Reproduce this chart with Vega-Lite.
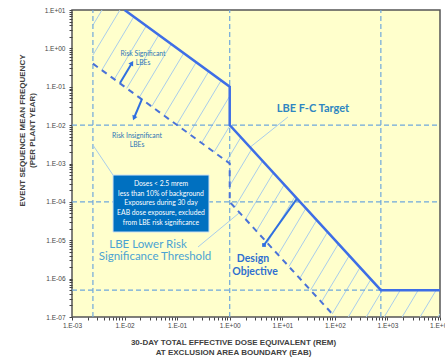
{
  "$schema": "https://vega.github.io/schema/vega-lite/v6.json",
  "width": 368,
  "height": 307,
  "autosize": {"type": "none"},
  "padding": {"left": 72, "top": 10, "right": 5, "bottom": 43},
  "background": "white",
  "config": {
    "view": {"fill": "#FFFFCC", "stroke": "#555555", "strokeWidth": 1.5},
    "font": "Liberation Sans"
  },
  "datasets": {
    "hatch": [
      {"x": 0.0025, "y": 4.03, "x2": 0.003724, "y2": 10},
      {"x": 0.0025, "y": 0.67, "x2": 0.00817, "y2": 10},
      {"x": 0.00369, "y": 0.271, "x2": 0.015, "y2": 6.664},
      {"x": 0.006372, "y": 0.157, "x2": 0.02591, "y2": 3.859},
      {"x": 0.011, "y": 0.0909, "x2": 0.04475, "y2": 2.235},
      {"x": 0.01901, "y": 0.0526, "x2": 0.0773, "y2": 1.294},
      {"x": 0.0328, "y": 0.03047, "x2": 0.1335, "y2": 0.749},
      {"x": 0.0567, "y": 0.01764, "x2": 0.2305, "y2": 0.4339},
      {"x": 0.0979, "y": 0.01022, "x2": 0.398, "y2": 0.2513},
      {"x": 0.169, "y": 0.005918, "x2": 0.6874, "y2": 0.1455},
      {"x": 0.2919, "y": 0.003425, "x2": 1, "y2": 0.057},
      {"x": 0.504, "y": 0.001983, "x2": 1.014, "y2": 0.00979},
      {"x": 0.8706, "y": 0.001149, "x2": 1.63, "y2": 0.004813},
      {"x": 1, "y": 0.0002622, "x2": 2.62, "y2": 0.002366},
      {"x": 1.245, "y": 0.000072, "x2": 4.21, "y2": 0.001163},
      {"x": 2.002, "y": 0.00003538, "x2": 6.77, "y2": 0.0005716},
      {"x": 3.218, "y": 0.0000174, "x2": 10.88, "y2": 0.000281},
      {"x": 5.174, "y": 0.00000855, "x2": 17.5, "y2": 0.0001382},
      {"x": 8.315, "y": 0.000004205, "x2": 28.12, "y2": 0.0000679},
      {"x": 13.36, "y": 0.000002067, "x2": 45.2, "y2": 0.0000334},
      {"x": 21.48, "y": 0.000001016, "x2": 72.7, "y2": 0.00001642},
      {"x": 34.5, "y": 4.995e-7, "x2": 116.8, "y2": 0.00000807},
      {"x": 55.5, "y": 2.456e-7, "x2": 187.7, "y2": 0.000003967},
      {"x": 89.2, "y": 1.207e-7, "x2": 301.8, "y2": 0.000001951},
      {"x": 180.3, "y": 1e-7, "x2": 485.1, "y2": 9.59e-7},
      {"x": 395.4, "y": 1e-7, "x2": 799.8, "y2": 5e-7},
      {"x": 867.6, "y": 1e-7, "x2": 1754, "y2": 5e-7},
      {"x": 1903, "y": 1e-7, "x2": 3849, "y2": 5e-7},
      {"x": 4175, "y": 1e-7, "x2": 8445, "y2": 5e-7},
      {"x": 9158, "y": 1e-7, "x2": 10000, "y2": 1.223e-7}
    ],
    "grid": [
      {"x": 0.0025, "y": 1e-7, "x2": 0.0025, "y2": 10},
      {"x": 1, "y": 1e-7, "x2": 1, "y2": 10},
      {"x": 750, "y": 1e-7, "x2": 750, "y2": 10},
      {"x": 0.001, "y": 0.01, "x2": 10000, "y2": 0.01},
      {"x": 0.001, "y": 0.0001, "x2": 10000, "y2": 0.0001},
      {"x": 0.001, "y": 5e-7, "x2": 10000, "y2": 5e-7}
    ],
    "leaders": [
      {"x": 0.0025, "y": 0.00303, "x2": 0.00603, "y2": 0.0005},
      {"x": 0.2494, "y": 0.00000667, "x2": 1.57, "y2": 0.0000537},
      {"x": 12.85, "y": 0.0163, "x2": 2.43, "y2": 0.00264}
    ],
    "target": [
      {"x": 0.01, "y": 10, "o": 1},
      {"x": 1, "y": 0.1, "o": 2},
      {"x": 1, "y": 0.01, "o": 3},
      {"x": 750, "y": 5e-7, "o": 4},
      {"x": 10000, "y": 5e-7, "o": 5}
    ],
    "threshold": [
      {"x": 0.0025, "y": 0.4, "o": 1},
      {"x": 1, "y": 0.001, "o": 2},
      {"x": 1, "y": 0.0001, "o": 3},
      {"x": 101, "y": 1e-7, "o": 4}
    ],
    "arrows": [
      {"x": 0.00819, "y": 0.1253, "x2": 0.01383, "y2": 0.416},
      {"x": 0.02148, "y": 0.048, "x2": 0.0151, "y2": 0.01534},
      {"x": 19.05, "y": 0.0001216, "x2": 4.49, "y2": 0.00000752}
    ],
    "box": [
      {"x": 0.00603, "y": 0.0005, "x2": 0.4036, "y2": 0.0000164}
    ],
    "boxtext": [
      {"x": 0.0493, "y": 0.000292, "label": "Doses < 2.5 mrem"},
      {"x": 0.0493, "y": 0.00016, "label": "less than 10% of background"},
      {"x": 0.0493, "y": 0.0000935, "label": "Exposures during 30 day"},
      {"x": 0.0493, "y": 0.0000513, "label": "EAB dose exposure, excluded"},
      {"x": 0.0493, "y": 0.0000281, "label": "from LBE risk significance"}
    ],
    "smalltext": [
      {"x": 0.02244, "y": 0.7135, "label": "Risk Significant"},
      {"x": 0.02244, "y": 0.416, "label": "LBEs"},
      {"x": 0.01722, "y": 0.00521, "label": "Risk Insignificant"},
      {"x": 0.01722, "y": 0.00303, "label": "LBEs"}
    ],
    "threshtext": [
      {"x": 0.0279, "y": 0.00000752, "label": "LBE Lower Risk"},
      {"x": 0.0379, "y": 0.00000366, "label": "Significance Threshold"}
    ],
    "targettext": [
      {"x": 38.4, "y": 0.0263, "label": "LBE F-C Target"}
    ],
    "designtext": [
      {"x": 2.77, "y": 0.00000324, "label": "Design"},
      {"x": 3.03, "y": 0.00000149, "label": "Objective"}
    ]
  },
  "encoding": {
    "x": {
      "field": "x",
      "type": "quantitative",
      "scale": {"type": "log", "domain": [0.001, 10000], "nice": false},
      "axis": {
        "values": [0.001, 0.002, 0.003, 0.004, 0.005, 0.006, 0.007, 0.008, 0.009,
                   0.01, 0.02, 0.03, 0.04, 0.05, 0.06, 0.07, 0.08, 0.09,
                   0.1, 0.2, 0.3, 0.4, 0.5, 0.6, 0.7, 0.8, 0.9,
                   1, 2, 3, 4, 5, 6, 7, 8, 9,
                   10, 20, 30, 40, 50, 60, 70, 80, 90,
                   100, 200, 300, 400, 500, 600, 700, 800, 900,
                   1000, 2000, 3000, 4000, 5000, 6000, 7000, 8000, 9000, 10000],
        "labelExpr": "abs(log(datum.value)/LN10 - round(log(datum.value)/LN10)) > 0.01 ? '' : '1.E' + (round(log(datum.value)/LN10) < 0 ? '-' : '+') + '0' + abs(round(log(datum.value)/LN10))",
        "labelOverlap": false,
        "labelFlush": false,
        "labelFontSize": 6.5,
        "labelColor": "#444444",
        "labelPadding": 2,
        "tickSize": 3,
        "tickColor": "#444444",
        "domain": false,
        "grid": false,
        "title": ["30-DAY TOTAL EFFECTIVE DOSE EQUIVALENT (REM)", "AT EXCLUSION AREA BOUNDARY (EAB)"],
        "titleFontSize": 8,
        "titleFontWeight": "bold",
        "titleColor": "#404040",
        "titleX": 161,
        "titleY": 21,
        "titleBaseline": "top",
        "titleAlign": "center",
        "titleLineHeight": 10
      }
    },
    "y": {
      "field": "y",
      "type": "quantitative",
      "scale": {"type": "log", "domain": [1e-7, 10], "nice": false},
      "axis": {
        "values": [1e-7, 2e-7, 3e-7, 4e-7, 5e-7, 6e-7, 7e-7, 8e-7, 9e-7,
                   1e-6, 2e-6, 3e-6, 4e-6, 5e-6, 6e-6, 7e-6, 8e-6, 9e-6,
                   1e-5, 2e-5, 3e-5, 4e-5, 5e-5, 6e-5, 7e-5, 8e-5, 9e-5,
                   0.0001, 0.0002, 0.0003, 0.0004, 0.0005, 0.0006, 0.0007, 0.0008, 0.0009,
                   0.001, 0.002, 0.003, 0.004, 0.005, 0.006, 0.007, 0.008, 0.009,
                   0.01, 0.02, 0.03, 0.04, 0.05, 0.06, 0.07, 0.08, 0.09,
                   0.1, 0.2, 0.3, 0.4, 0.5, 0.6, 0.7, 0.8, 0.9,
                   1, 2, 3, 4, 5, 6, 7, 8, 9, 10],
        "labelExpr": "abs(log(datum.value)/LN10 - round(log(datum.value)/LN10)) > 0.01 ? '' : '1.E' + (round(log(datum.value)/LN10) < 0 ? '-' : '+') + '0' + abs(round(log(datum.value)/LN10))",
        "labelOverlap": false,
        "labelFlush": false,
        "labelFontSize": 6.5,
        "labelColor": "#444444",
        "labelPadding": 4,
        "tickSize": 3,
        "tickColor": "#444444",
        "domain": false,
        "grid": false,
        "title": ["EVENT SEQUENCE MEAN FREQUENCY", "(PER PLANT YEAR)"],
        "titleFontSize": 8,
        "titleFontWeight": "bold",
        "titleColor": "#404040",
        "titleAngle": -90,
        "titleX": -54,
        "titleY": 120,
        "titleBaseline": "top",
        "titleAlign": "center",
        "titleLineHeight": 10.5
      }
    }
  },
  "layer": [
    {
      "data": {"name": "hatch"},
      "mark": {"type": "rule", "color": "#A9CDEB", "strokeWidth": 1, "clip": true},
      "encoding": {"x2": {"field": "x2"}, "y2": {"field": "y2"}}
    },
    {
      "data": {"name": "grid"},
      "mark": {"type": "rule", "color": "#6FA8DC", "strokeWidth": 1.2, "strokeDash": [5, 3], "clip": true},
      "encoding": {"x2": {"field": "x2"}, "y2": {"field": "y2"}}
    },
    {
      "data": {"name": "leaders"},
      "mark": {"type": "rule", "color": "#A9CDEB", "strokeWidth": 1, "clip": true},
      "encoding": {"x2": {"field": "x2"}, "y2": {"field": "y2"}}
    },
    {
      "data": {"name": "threshold"},
      "mark": {"type": "line", "color": "#4A72D8", "strokeWidth": 2, "strokeDash": [6, 5], "clip": true},
      "encoding": {"order": {"field": "o"}}
    },
    {
      "data": {"name": "target"},
      "mark": {"type": "line", "color": "#3E6EE6", "strokeWidth": 2.5, "clip": true},
      "encoding": {"order": {"field": "o"}}
    },
    {
      "data": {"name": "box"},
      "mark": {"type": "rect", "fill": "#0070C0", "stroke": "#C9DFF2", "strokeWidth": 1},
      "encoding": {"x2": {"field": "x2"}, "y2": {"field": "y2"}}
    },
    {
      "data": {"name": "boxtext"},
      "mark": {"type": "text", "color": "white", "fontSize": 6.8, "font": "Lato", "align": "center", "baseline": "middle"},
      "encoding": {"text": {"field": "label"}}
    },
    {
      "data": {"name": "smalltext"},
      "mark": {"type": "text", "color": "#2E75B6", "fontSize": 6.8, "font": "Lato", "align": "center", "baseline": "middle"},
      "encoding": {"text": {"field": "label"}}
    },
    {
      "data": {"name": "threshtext"},
      "mark": {"type": "text", "color": "#4BA3D3", "fontSize": 11.5, "font": "Lato", "align": "center", "baseline": "middle"},
      "encoding": {"text": {"field": "label"}}
    },
    {
      "data": {"name": "targettext"},
      "mark": {"type": "text", "color": "#2E86C1", "fontSize": 11, "font": "Lato", "fontWeight": "bold", "align": "center", "baseline": "middle"},
      "encoding": {"text": {"field": "label"}}
    },
    {
      "data": {"name": "designtext"},
      "mark": {"type": "text", "color": "#2F6FD0", "fontSize": 10.5, "font": "Lato", "fontWeight": "bold", "align": "center", "baseline": "middle"},
      "encoding": {"text": {"field": "label"}}
    },
    {
      "data": {"name": "arrows"},
      "mark": {"type": "rule", "color": "#2F6FE0", "strokeWidth": 2},
      "encoding": {"x2": {"field": "x2"}, "y2": {"field": "y2"}}
    },
    {
      "data": {"values": [{"x": 0.01383, "y": 0.416}]},
      "mark": {"type": "point", "shape": "triangle-up", "filled": true, "color": "#2F6FE0", "size": 30, "angle": 31, "opacity": 1}
    },
    {
      "data": {"values": [{"x": 0.0151, "y": 0.01534}]},
      "mark": {"type": "point", "shape": "triangle-up", "filled": true, "color": "#2F6FE0", "size": 30, "angle": 203, "opacity": 1}
    },
    {
      "data": {"values": [{"x": 4.49, "y": 0.00000752}]},
      "mark": {"type": "point", "shape": "square", "filled": true, "color": "#2F6FE0", "size": 14, "opacity": 1}
    }
  ]
}
